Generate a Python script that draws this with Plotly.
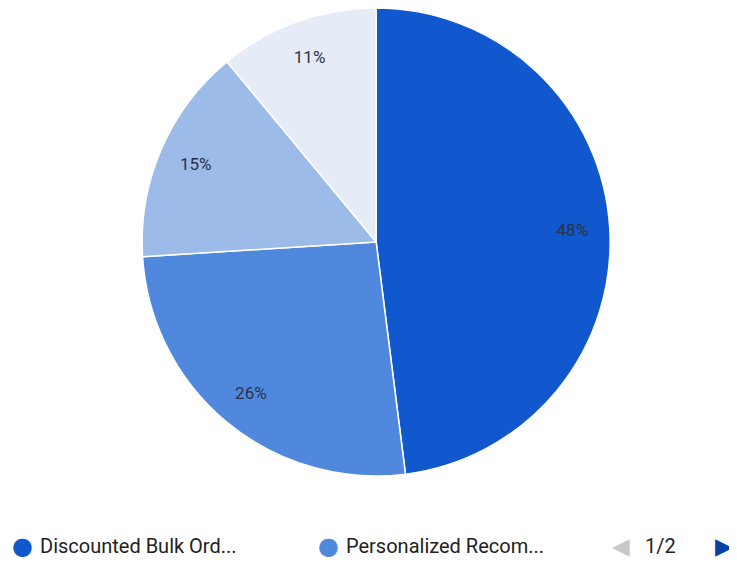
import plotly.graph_objects as go

labels = ["Discounted Bulk Orders", "Personalized Recommendations", "Loyalty Rewards", "Free Shipping"]
values = [48, 26, 15, 11]
colors = ["#1157CE", "#5088DD", "#9CBBE8", "#E5EBF7"]
legend_short = ["Discounted Bulk Ord...", "Personalized Recom..."]
page_text = "1/2"

W, H = 729, 554  # page body has an 8px margin
OFF = 8

domain = dict(x=[0.01, 1.0], y=[1 - 468 / H, 1.0])

# main pie (wedges)
pie = go.Pie(
    labels=labels,
    values=values,
    sort=False,
    direction="clockwise",
    rotation=0,
    marker=dict(colors=colors, line=dict(color="white", width=1.5)),
    textinfo="none",
    domain=domain,
    showlegend=False,
    hoverinfo="label+percent",
)

# transparent ring carrying the percentage labels near the rim
ring = go.Pie(
    labels=labels,
    values=values,
    sort=False,
    direction="clockwise",
    rotation=0,
    hole=0.68,
    marker=dict(colors=["rgba(0,0,0,0)"] * len(values), line=dict(width=0)),
    texttemplate="%{percent:.0%}",
    textposition="inside",
    insidetextorientation="horizontal",
    textfont=dict(family="Roboto", size=17, color="#2b3346"),
    domain=domain,
    showlegend=False,
    hoverinfo="skip",
)

fig = go.Figure([pie, ring])


def px(x):
    return (x - OFF) / W


def py(y):
    return 1 - (y - OFF) / H


LY = 546
annotations = []
xs_dot = [22, 328]
xs_txt = [38, 344]
for i, name in enumerate(legend_short):
    annotations.append(dict(x=px(xs_dot[i]), y=py(LY), xref="paper", yref="paper",
                            text="●", showarrow=False, xanchor="center", yanchor="middle",
                            font=dict(size=24, color=colors[i], family="DejaVu Sans")))
    annotations.append(dict(x=px(xs_txt[i]), y=py(LY), xref="paper", yref="paper",
                            text=name, showarrow=False, xanchor="left", yanchor="middle",
                            font=dict(size=20, color="#222222", family="Roboto")))
annotations.append(dict(x=px(621), y=py(LY), xref="paper", yref="paper",
                        text="◀", showarrow=False, xanchor="center", yanchor="middle",
                        font=dict(size=23, color="#c8c8c8", family="DejaVu Sans")))
annotations.append(dict(x=px(660), y=py(LY), xref="paper", yref="paper",
                        text=page_text, showarrow=False, xanchor="center", yanchor="middle",
                        font=dict(size=20, color="#222222", family="Roboto")))
annotations.append(dict(x=px(724), y=py(LY), xref="paper", yref="paper",
                        text="▶", showarrow=False, xanchor="center", yanchor="middle",
                        font=dict(size=23, color="#0b3fa8", family="DejaVu Sans")))

fig.update_layout(
    width=W, height=H,
    margin=dict(l=0, r=0, t=0, b=0),
    paper_bgcolor="white",
    plot_bgcolor="white",
    annotations=annotations,
)

fig.write_html("out.html")
